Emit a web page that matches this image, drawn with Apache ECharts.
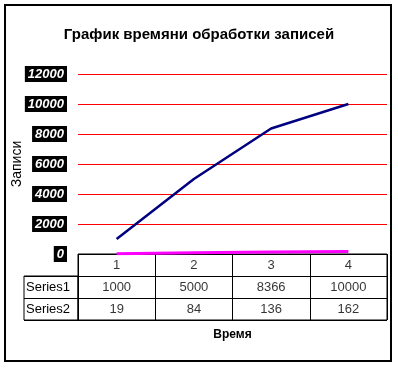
<!DOCTYPE html>
<html>
<head>
<meta charset="utf-8">
<script src="https://cdn.jsdelivr.net/npm/echarts@6/dist/echarts.min.js"></script>
<style>
  html, body { margin: 0; padding: 0; background: #fff; }
  #chart { width: 398px; height: 368px; }
</style>
</head>
<body>
<div id="chart"></div>
<script>
// данные графика
const categories = ['1', '2', '3', '4']
const series1 = [1000, 5000, 8366, 10000]
const series2 = [19, 84, 136, 162]
const seriesNames = ['Series1', 'Series2']
const yTicks = { min: 0, max: 12000, interval: 2000 }

const font = 'Arial, "Liberation Sans", sans-serif'

// ячейки таблицы данных: [столбец, строка, текст]
const tableCells = []
categories.forEach((c, i) => tableCells.push([i, 0, c]))
series1.forEach((v, i) => tableCells.push([i, 1, String(v)]))
series2.forEach((v, i) => tableCells.push([i, 2, String(v)]))

const chart = echarts.init(document.getElementById('chart'))
chart.setOption({
  animation: false,
  title: {
    text: 'График времяни обработки записей',
    left: 'center',
    top: 22,
    textStyle: { fontFamily: font, fontSize: 15, fontWeight: 'bold', color: '#000' }
  },
  graphic: [
    {
      type: 'rect',
      shape: { x: 5, y: 5, width: 386, height: 356 },
      style: { fill: 'none', stroke: '#000', lineWidth: 2 }
    }
  ],
  grid: [
    // область графика
    { left: 78, right: 11, top: 74, height: 180, outerBoundsMode: 'none' },
    // таблица данных
    {
      left: 78, right: 11, top: 254, height: 66, outerBoundsMode: 'none',
      show: true, borderColor: '#000', borderWidth: 1, backgroundColor: 'transparent'
    },
    // заголовки строк таблицы
    {
      left: 24, width: 54, top: 276, height: 44, outerBoundsMode: 'none',
      show: true, borderColor: '#000', borderWidth: 1, backgroundColor: 'transparent'
    }
  ],
  xAxis: [
    {
      gridIndex: 0, type: 'category', data: categories, boundaryGap: true,
      axisLine: { show: false }, axisTick: { show: false }, axisLabel: { show: false }
    },
    {
      gridIndex: 1, type: 'category', data: categories, boundaryGap: true,
      name: 'Время', nameLocation: 'middle', nameGap: 9, nameMoveOverlap: false,
      nameTextStyle: { fontFamily: font, fontSize: 12, fontWeight: 'bold', color: '#000', verticalAlign: 'top' },
      axisLine: { show: false }, axisTick: { show: false }, axisLabel: { show: false },
      splitLine: { show: true, lineStyle: { color: '#000', width: 1 } }
    },
    {
      gridIndex: 2, type: 'value', show: false
    }
  ],
  yAxis: [
    {
      gridIndex: 0, type: 'value',
      min: yTicks.min, max: yTicks.max, interval: yTicks.interval,
      name: 'Записи', nameLocation: 'middle', nameGap: 54, nameMoveOverlap: false,
      nameTextStyle: { fontFamily: font, fontSize: 14, color: '#000' },
      axisLine: { show: false }, axisTick: { show: false },
      axisLabel: {
        margin: 11, fontFamily: font, fontSize: 13, fontWeight: 'bold', fontStyle: 'italic',
        color: '#fff', backgroundColor: '#000', padding: [2, 3, 1, 3],
        formatter: v => String(v)
      },
      splitLine: { lineStyle: { color: '#ff0000', width: 1 } }
    },
    {
      gridIndex: 1, type: 'category', data: ['h', 's1', 's2'], inverse: true,
      axisLine: { show: false }, axisTick: { show: false }, axisLabel: { show: false },
      splitLine: { show: true, lineStyle: { color: '#000', width: 1 } }
    },
    {
      gridIndex: 2, type: 'category', data: seriesNames, inverse: true,
      axisLine: { show: false }, axisTick: { show: false },
      axisLabel: { inside: true, margin: 2, fontFamily: font, fontSize: 13, color: '#000' },
      splitLine: { show: true, lineStyle: { color: '#000', width: 1 } }
    }
  ],
  series: [
    {
      name: 'Series1', type: 'line', data: series1,
      xAxisIndex: 0, yAxisIndex: 0,
      symbol: 'none', lineStyle: { color: '#000080', width: 2.5 }
    },
    {
      name: 'Series2', type: 'line', data: series2,
      xAxisIndex: 0, yAxisIndex: 0,
      symbol: 'none', lineStyle: { color: '#ff00ff', width: 3 }
    },
    {
      type: 'scatter', data: tableCells,
      xAxisIndex: 1, yAxisIndex: 1,
      symbolSize: 1, itemStyle: { color: 'transparent' },
      label: {
        show: true, position: 'inside',
        formatter: p => p.value[2],
        fontFamily: font, fontSize: 13, color: '#000'
      }
    }
  ]
})
</script>
</body>
</html>
